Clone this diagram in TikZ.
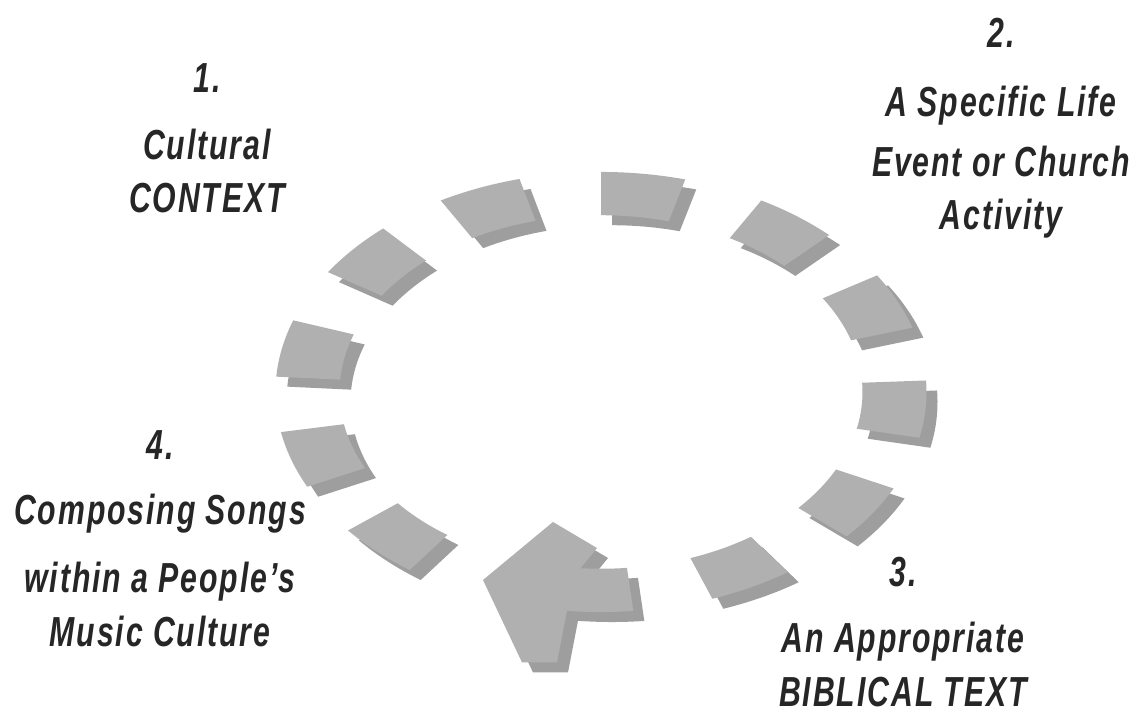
\documentclass[tikz,border=0pt]{standalone}
\usepackage{fontspec}
\newfontfamily\lblfont[FakeStretch=0.72,LetterSpace=4.5]{Liberation Sans}
\tikzset{
  lbl/.style={font=\lblfont\bfseries\itshape\fontsize{42}{50}\selectfont, anchor=base, inner sep=0pt, text=black!85},
  ringfront/.style={fill=black!31},
  ringback/.style={fill=black!38},
  ringgeom/.style={shift={(601,330)}, yscale=0.676},
}
\newcommand\ringdash[2]{%
  \fill[#2] (#1-7.5:325.5) arc[start angle=#1-7.5, end angle=#1+7.5, radius=325.5]
    -- (#1+7.5:261.5) arc[start angle=#1+7.5, end angle=#1-7.5, radius=261.5] -- cycle;}
\newcommand\ringarrow[1]{%
  \fill[#1] (-84.3:261.5) arc[start angle=-84.3, end angle=-94.5, radius=261.5]
    -- (-4,-230.8) -- (-48,-192.3) -- (-118,-278.1) -- (-79,-400) -- (-44,-400)
    -- (-96:325.5) arc[start angle=-96, end angle=-84.3, radius=325.5] -- cycle;}
\begin{document}
\begin{tikzpicture}[x=1pt,y=1pt]
\useasboundingbox (0,0) rectangle (1141,722);
\fill[white] (0,0) rectangle (1141,722);
% back faces
\begin{scope}[shift={(11,-10)}]
  \begin{scope}[ringgeom]
    \foreach \a in {112,82.5,53,24.5,-4.5,-33.5,-62.5,-133.5,-162,168.5,139.5} {\ringdash{\a}{ringback}}
    \ringarrow{ringback}
  \end{scope}
\end{scope}
% front faces
\begin{scope}[ringgeom]
  \foreach \a in {112,82.5,53,24.5,-4.5,-33.5,-62.5,-133.5,-162,168.5,139.5} {\ringdash{\a}{ringfront}}
  \ringarrow{ringfront}
\end{scope}
% labels
\node[lbl] (n1)  at (207,629) {1.};
\node[lbl] (t1a) at (207,562) {Cultural};
\node[lbl] (t1b) at (207,509) {CONTEXT};
\node[lbl] (n2)  at (1001,674) {2.};
\node[lbl] (t2a) at (1001,605) {A Specific Life};
\node[lbl] (t2b) at (1001,545) {Event or Church};
\node[lbl] (t2c) at (1001,492) {Activity};
\node[lbl] (n3)  at (903,135) {3.};
\node[lbl] (t3a) at (903,69) {An Appropriate};
\node[lbl] (t3b) at (903,15) {BIBLICAL TEXT};
\node[lbl] (n4)  at (160,262) {4.};
\node[lbl] (t4a) at (160,197) {Composing Songs};
\node[lbl] (t4b) at (160,129) {within a People’s};
\node[lbl] (t4c) at (160,75) {Music Culture};
\end{tikzpicture}
\end{document}
